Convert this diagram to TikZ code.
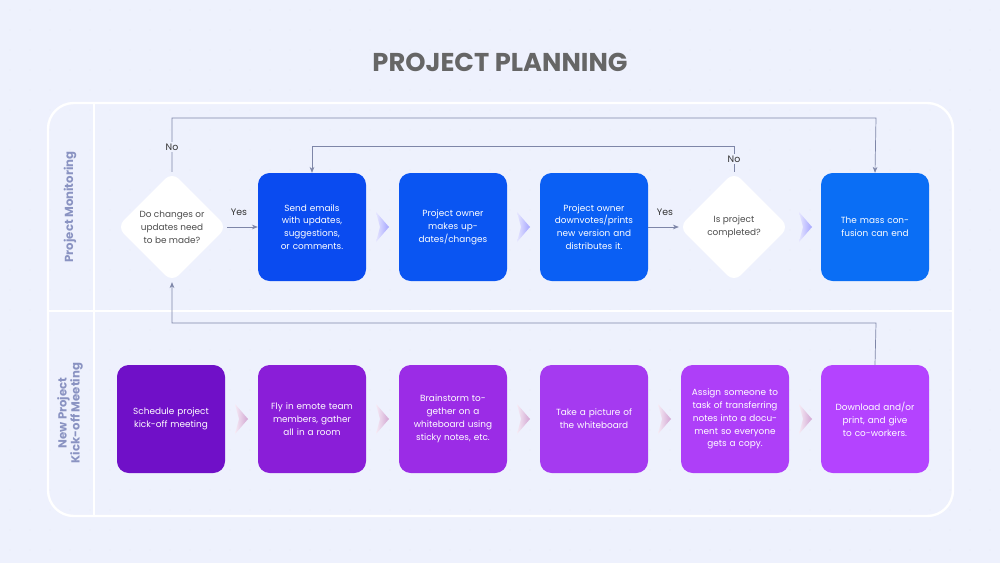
\documentclass[tikz,border=0pt]{standalone}
\usepackage{fontspec}
\setmainfont{Poppins}
\usetikzlibrary{shapes.geometric,arrows.meta}
\definecolor{bg}{HTML}{EEF1FD}
\definecolor{lane}{HTML}{8A93C2}
\definecolor{conn}{HTML}{7E86A8}
\begin{document}
\begin{tikzpicture}[x=0.03cm,y=-0.03cm,
  box/.style={rounded corners=10pt,minimum width=108*0.03cm,minimum height=108*0.03cm,text width=88*0.03cm,align=center,text=white,font=\fontsize{7.6}{11}\selectfont,inner sep=0pt},
  dia/.style={diamond,fill=white,rounded corners=8pt,minimum width=110*0.03cm,minimum height=110*0.03cm,align=center,text=black!70,font=\fontsize{7.6}{11}\selectfont,inner sep=0pt},
  conn/.style={draw=conn,line width=0.6pt},
  arr/.style={conn,-{Stealth[length=5pt,width=4pt]}},
  lbl/.style={fill=bg,font=\fontsize{8}{10}\selectfont,text=black!80,inner sep=1.5pt},
  chev/.style={draw=none},
  lanelbl/.style={rotate=90,font=\bfseries\fontsize{10}{11}\selectfont,text=lane,align=center}]
\fill[bg] (0,0) rectangle (1000,563);
\useasboundingbox (0,0) rectangle (1000,563);
\foreach \i in {10,30,...,990}{\foreach \j in {10,30,...,560}{\fill[black!15] (\i,\j) circle (0.35pt);}}
\node[font=\bfseries\fontsize{22}{24}\selectfont,text=black!60] (title) at (500,62) {PROJECT PLANNING};
\draw[white,line width=2pt,rounded corners=22pt] (48,103) rectangle (953,516);
\draw[white,line width=2pt] (48,311) -- (953,311);
\draw[white,line width=2pt] (94,103) -- (94,516);
\node[lanelbl] (l1) at (70,207) {Project Monitoring};
\node[lanelbl] (l2) at (70,413) {New Project\\Kick-off Meeting};
% top row
\node[dia] (d1) at (172,227) {Do changes or\\updates need\\to be made?};
\node[box,fill={rgb,255:red,10;green,75;blue,240}] (t1) at (312,227) {Send emails with updates, suggestions, or comments.};
\node[box,fill={rgb,255:red,10;green,85;blue,242}] (t2) at (453,227) {Project owner makes updates/changes};
\node[box,fill={rgb,255:red,10;green,95;blue,244}] (t3) at (594,227) {Project owner downvotes/prints new version and distributes it.};
\node[dia] (d2) at (734,227) {Is project\\completed?};
\node[box,fill={rgb,255:red,10;green,110;blue,245}] (t4) at (875,227) {The mass confusion can end};
% bottom row
\node[box,fill={rgb,255:red,112;green,16;blue,200}] (b1) at (171,419) {Schedule project kick-off meeting};
\node[box,fill={rgb,255:red,138;green,30;blue,216}] (b2) at (312,419) {Fly in emote team members, gather all in a room};
\node[box,fill={rgb,255:red,155;green,44;blue,230}] (b3) at (453,419) {Brainstorm together on a whiteboard using sticky notes, etc.};
\node[box,fill={rgb,255:red,165;green,58;blue,240}] (b4) at (594,419) {Take a picture of the whiteboard};
\node[box,fill={rgb,255:red,174;green,63;blue,248}] (b5) at (735,419) {Assign someone to task of transferring notes into a document so everyone gets a copy.};
\node[box,fill={rgb,255:red,180;green,67;blue,255}] (b6) at (875,419) {Download and/or print, and give to co-workers.};
% chevrons
\foreach \x/\c in {376/blue,517/blue,799/blue}{\shade[left color=\c!10,right color=\c!35] (\x,212) -- (\x+13,227) -- (\x,242) -- (\x+4,227) -- cycle;}
\foreach \x in {235,376,517,658,799}{\shade[left color=violet!8,right color=violet!35] (\x,404) -- (\x+13,419) -- (\x,434) -- (\x+4,419) -- cycle;}
% connectors
\coordinate (n1a) at (172,118); \coordinate (n1b) at (876,118);
\draw[arr] (d1.north) -- (n1a) -- (n1b) -- (t4.north);
\node[lbl] (no1) at (172,147) {No};
\coordinate (n2a) at (734,146); \coordinate (n2b) at (312,146);
\draw[arr] (d2.north) -- (n2a) -- (n2b) -- (t1.north);
\node[lbl] (no2) at (734,159) {No};
\draw[arr] (d1.east) -- (t1.west);
\node[lbl,fill=none] (y1) at (239,212) {Yes};
\draw[arr] (t3.east) -- (d2.west);
\node[lbl,fill=none] (y2) at (665,212) {Yes};
\coordinate (r1) at (876,323); \coordinate (r2) at (172,323);
\draw[arr] (b6.north) -- (r1) -- (r2) -- (d1.south);
\end{tikzpicture}
\end{document}
